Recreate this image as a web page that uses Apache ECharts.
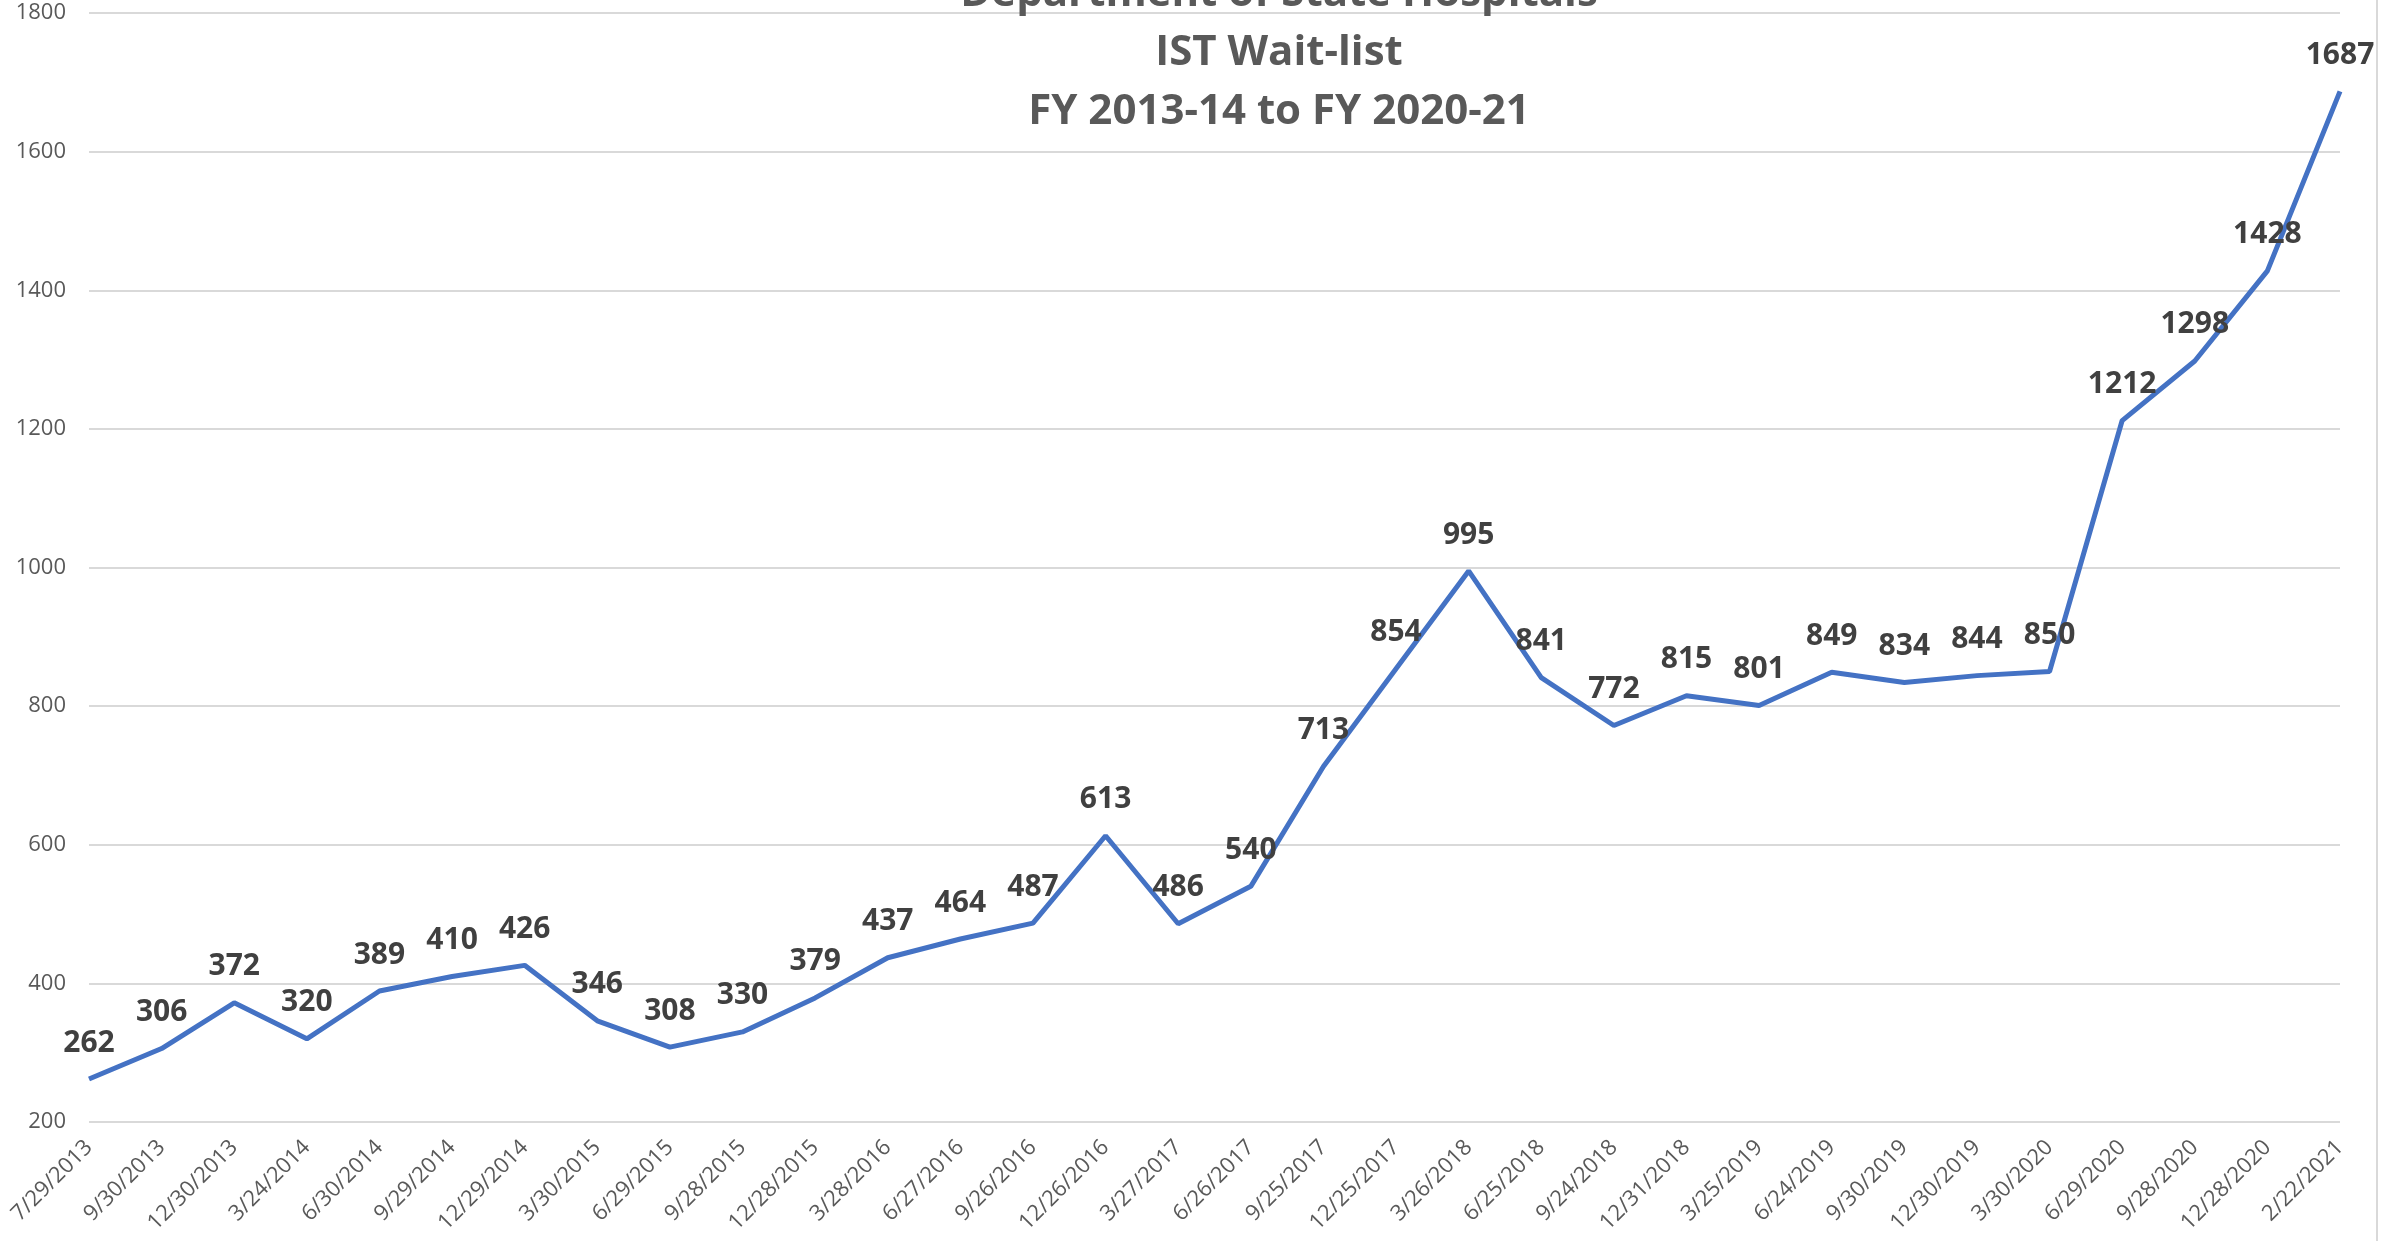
<!DOCTYPE html>
<html>
<head>
<meta charset="utf-8">
<title>IST Wait-list</title>
<script src="https://cdn.jsdelivr.net/npm/echarts@6/dist/echarts.min.js"></script>
<style>
  html, body { margin: 0; padding: 0; background: #fff; }
  #chart { width: 2392px; height: 1241px; }
</style>
</head>
<body>
<div id="chart"></div>
<script>
// IST wait-list, quarterly counts
var dates = ['7/29/2013','9/30/2013','12/30/2013','3/24/2014','6/30/2014','9/29/2014',
    '12/29/2014','3/30/2015','6/29/2015','9/28/2015','12/28/2015','3/28/2016',
    '6/27/2016','9/26/2016','12/26/2016','3/27/2017','6/26/2017','9/25/2017',
    '12/25/2017','3/26/2018','6/25/2018','9/24/2018','12/31/2018','3/25/2019',
    '6/24/2019','9/30/2019','12/30/2019','3/30/2020','6/29/2020','9/28/2020',
    '12/28/2020','2/22/2021'];
var waitList = [262, 306, 372, 320, 389, 410, 426, 346, 308, 330, 379, 437,
    464, 487, 613, 486, 540, 713, 854, 995, 841, 772, 815, 801,
    849, 834, 844, 850, 1212, 1298, 1428, 1687];
var titleLines = ['Department of State Hospitals', 'IST Wait-list', 'FY 2013-14 to FY 2020-21'];

var chart = echarts.init(document.getElementById('chart'));
chart.setOption({
    animation: false,
    backgroundColor: '#ffffff',
    title: {
        text: titleLines.join('\n'),
        left: 1274,
        textAlign: 'center',
        top: -40,
        textStyle: {
            fontFamily: 'Open Sans',
            fontSize: 42,
            fontWeight: 'bold',
            color: '#595959',
            lineHeight: 59
        }
    },
    grid: {
        left: 89,
        right: 52,
        top: 13,
        bottom: 119
    },
    graphic: [{
        type: 'line',
        shape: {x1: 2377, y1: 0, x2: 2377, y2: 1241},
        style: {stroke: '#d9d9d9', lineWidth: 2}
    }],
    xAxis: {
        type: 'category',
        boundaryGap: false,
        data: dates,
        axisLine: {show: false},
        axisTick: {show: false},
        axisLabel: {
            interval: 0,
            rotate: 45,
            margin: 22,
            fontFamily: 'Open Sans',
            fontSize: 22,
            color: '#595959'
        }
    },
    yAxis: {
        type: 'value',
        min: 200,
        max: 1800,
        interval: 200,
        axisLine: {show: false},
        axisTick: {show: false},
        axisLabel: {
            margin: 23,
            fontFamily: 'Open Sans',
            fontSize: 22,
            color: '#595959',
            formatter: function (v) { return String(v); }
        },
        splitLine: {
            lineStyle: {color: '#d9d9d9', width: 2}
        }
    },
    series: [{
        name: 'IST Wait-list',
        type: 'line',
        data: waitList,
        showSymbol: true,
        symbol: 'circle',
        symbolSize: 2,
        itemStyle: {color: 'rgba(68,114,196,0)', borderWidth: 0},
        lineStyle: {color: '#4472c4', width: 5},
        label: {
            show: true,
            position: 'top',
            distance: 20,
            fontFamily: 'Open Sans',
            fontSize: 30,
            fontWeight: 'bold',
            color: '#404040'
        },
        labelLayout: {hideOverlap: false}
    }]
});
</script>
</body>
</html>
